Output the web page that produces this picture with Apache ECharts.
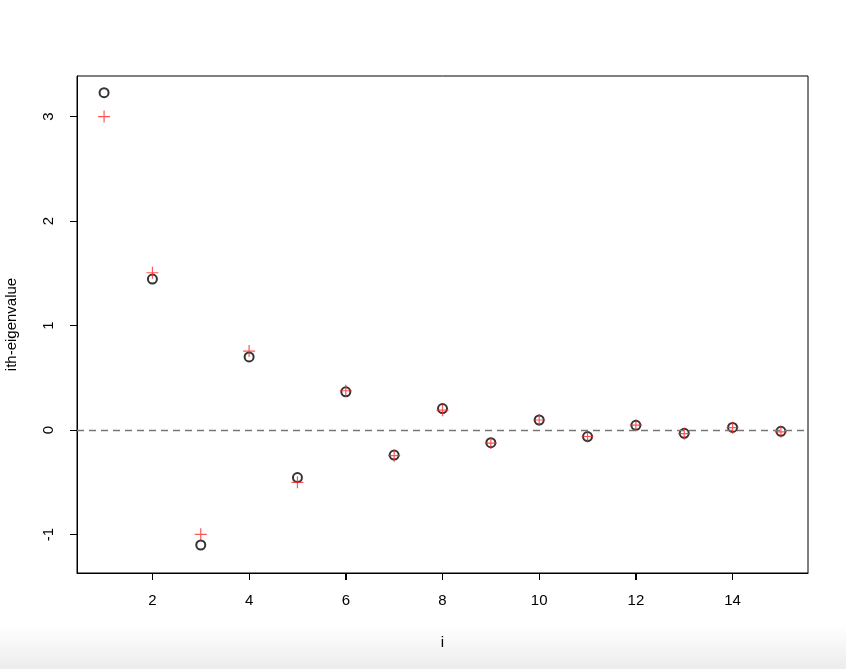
<!DOCTYPE html>
<html>
<head>
<meta charset="utf-8">
<script src="https://cdn.jsdelivr.net/npm/echarts@6/dist/echarts.min.js"></script>
<style>
html,body{margin:0;padding:0;background:#fff;}
#chart{width:846px;height:669px;background:linear-gradient(to bottom,#ffffff 0px,#ffffff 625px,#ececec 669px);}
</style>
</head>
<body>
<div id="chart"></div>
<script>
var indices = [1,2,3,4,5,6,7,8,9,10,11,12,13,14,15];
var circleValues = [3.228,1.445,-1.10,0.70,-0.455,0.366,-0.239,0.205,-0.121,0.096,-0.062,0.045,-0.031,0.025,-0.012];
var plusValues = [3.00,1.505,-0.998,0.756,-0.50,0.376,-0.245,0.19,-0.125,0.096,-0.062,0.047,-0.035,0.023,-0.017];
var xTicks = [2,4,6,8,10,12,14];
var yTicks = [-1,0,1,2,3];

var X_MIN = 0.44, X_MAX = 15.56, Y_MIN = -1.368, Y_MAX = 3.388;
var plusPath = 'path://M4.5,0 H5.5 V4.5 H10 V5.5 H5.5 V10 H4.5 V5.5 H0 V4.5 H4.5 Z';
var font = '"Liberation Sans", Arial, sans-serif';

function crisp(v){ return Math.round(v - 0.5) + 0.5; }

var chart = echarts.init(document.getElementById('chart'), null, {renderer:'canvas'});
chart.setOption({
  grid:{left:77,right:38,top:76,bottom:96,show:true,borderColor:'#000',borderWidth:1,outerBoundsMode:'none'},
  xAxis:{
    type:'value', min:X_MIN, max:X_MAX,
    name:'i', nameLocation:'middle', nameGap:62,
    nameTextStyle:{fontFamily:font,fontSize:15,color:'#000'},
    axisLine:{show:true,onZero:false,lineStyle:{color:'#000',width:1}},
    splitLine:{show:false},
    axisTick:{show:true,length:7,lineStyle:{color:'#000'},customValues:xTicks},
    axisLabel:{fontFamily:font,fontSize:15,color:'#000',margin:20,customValues:xTicks}
  },
  yAxis:{
    type:'value', min:Y_MIN, max:Y_MAX,
    name:'ith-eigenvalue', nameLocation:'middle', nameGap:58, nameRotate:90,
    nameTextStyle:{fontFamily:font,fontSize:15,color:'#000'},
    axisLine:{show:true,onZero:false,lineStyle:{color:'#000',width:1}},
    splitLine:{show:false},
    axisTick:{show:true,length:7,lineStyle:{color:'#000'},customValues:yTicks},
    axisLabel:{rotate:90,fontFamily:font,fontSize:15,color:'#000',margin:21,customValues:yTicks}
  },
  series:[
    {
      type:'scatter',
      data:indices.map(function(x,i){return [x,circleValues[i]];}),
      symbol:'emptyCircle', symbolSize:9,
      itemStyle:{color:'#000',borderColor:'#000',borderWidth:0.8},
      z:2,
      markLine:{
        silent:true, symbol:['none','none'],
        label:{show:false},
        lineStyle:{color:'#777',type:[7,5],width:1.3},
        data:[{yAxis:0}]
      }
    },
    {
      type:'scatter',
      data:indices.map(function(x,i){return [x,plusValues[i]];}),
      symbol:plusPath, symbolSize:12,
      itemStyle:{color:'#ff2a2a'},
      z:3
    },
    {
      type:'custom', clip:false, silent:true, z:5,
      data:xTicks.map(function(v){return [v, Y_MIN];}),
      renderItem:function(params, api){
        var p = api.coord([api.value(0), api.value(1)]);
        var x = crisp(p[0]), y = Math.round(p[1]);
        return {type:'line', shape:{x1:x,y1:y,x2:x,y2:y+7}, style:{stroke:'#000',lineWidth:1}};
      }
    },
    {
      type:'custom', clip:false, silent:true, z:5,
      data:yTicks.map(function(v){return [X_MIN, v];}),
      renderItem:function(params, api){
        var p = api.coord([api.value(0), api.value(1)]);
        var x = Math.round(p[0]), y = crisp(p[1]);
        return {type:'line', shape:{x1:x,y1:y,x2:x-7,y2:y}, style:{stroke:'#000',lineWidth:1}};
      }
    }
  ]
});
</script>
</body>
</html>
